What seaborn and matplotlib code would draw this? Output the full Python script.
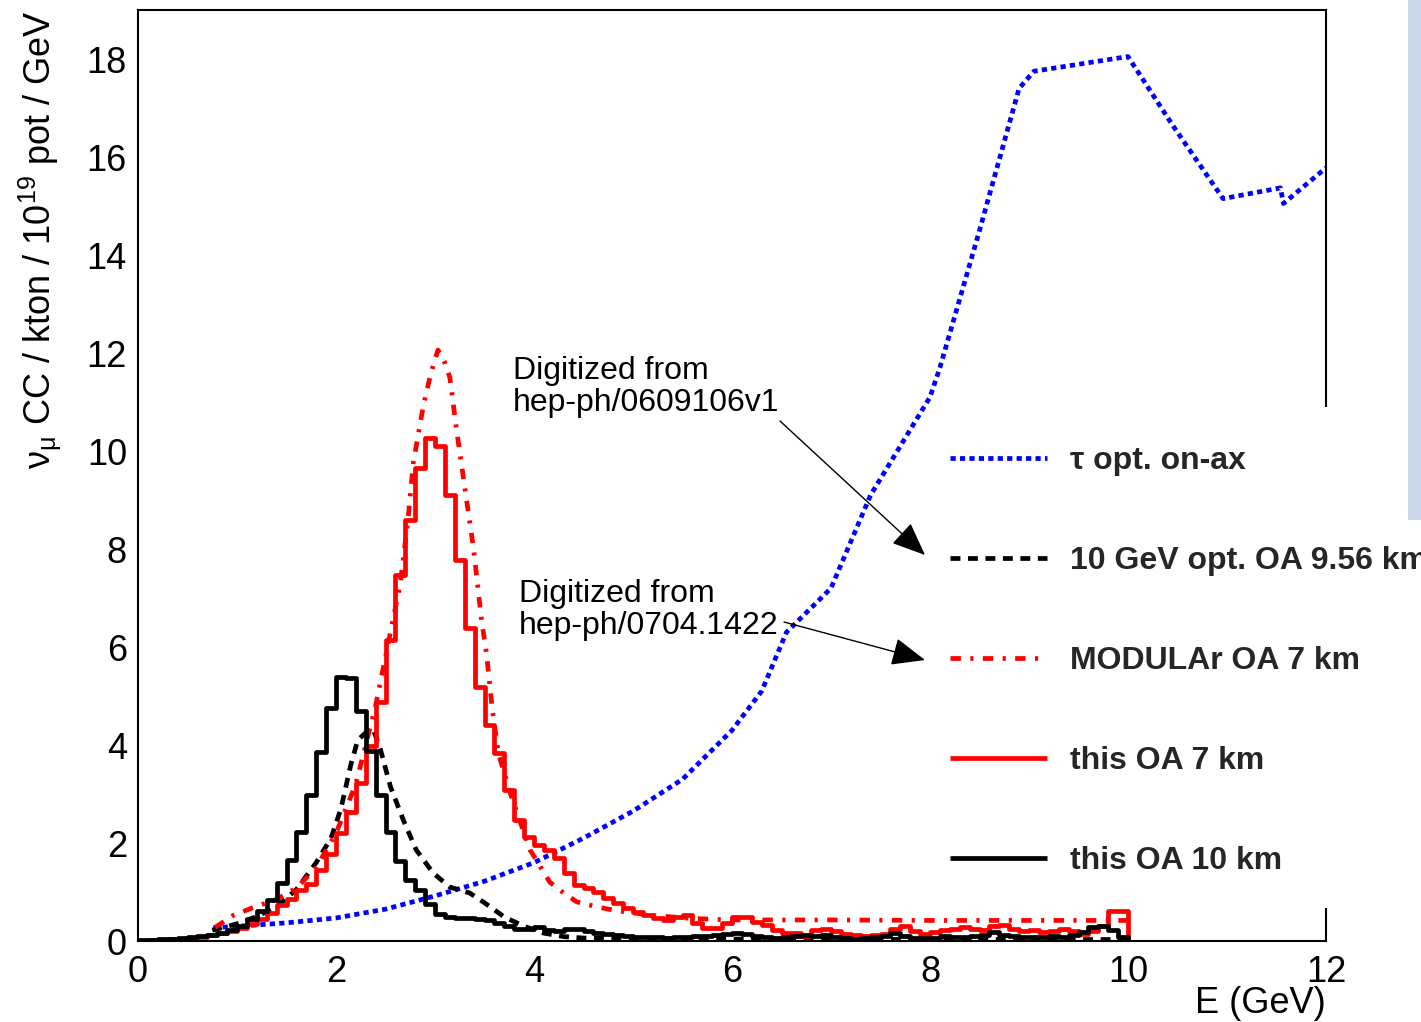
import numpy as np
import pandas as pd
import matplotlib
matplotlib.use("Agg")
import matplotlib.pyplot as plt
from matplotlib.patches import Rectangle
import seaborn as sns

# ---------------- data ----------------
bin_width = 0.1
bin_lo = 0.0

red_hist = [
    0.01, 0.02, 0.03, 0.04, 0.05, 0.07, 0.09, 0.12, 0.16, 0.20,
    0.27, 0.35, 0.45, 0.58, 0.73, 0.86, 1.04, 1.17, 1.45, 1.78,
    2.20, 2.64, 3.22, 3.97, 4.87, 6.14, 7.47, 8.59, 9.65, 10.26,
    10.10, 9.10, 7.78, 6.38, 5.19, 4.41, 3.83, 3.08, 2.47, 2.13,
    1.96, 1.86, 1.69, 1.38, 1.14, 1.08, 1.00, 0.87, 0.77, 0.67,
    0.60, 0.53, 0.46, 0.43, 0.50, 0.53, 0.36, 0.26, 0.26, 0.36,
    0.50, 0.50, 0.39, 0.33, 0.23, 0.16, 0.16, 0.10, 0.23, 0.25,
    0.20, 0.15, 0.12, 0.10, 0.12, 0.15, 0.25, 0.30, 0.20, 0.15,
    0.18, 0.22, 0.25, 0.28, 0.25, 0.22, 0.30, 0.32, 0.25, 0.20,
    0.22, 0.18, 0.20, 0.25, 0.20, 0.15, 0.20, 0.30, 0.62, 0.62,
]

black_hist = [
    0.02, 0.03, 0.04, 0.05, 0.06, 0.08, 0.10, 0.13, 0.17, 0.22,
    0.30, 0.45, 0.62, 0.84, 1.18, 1.65, 2.22, 2.98, 3.85, 4.75,
    5.39, 5.36, 4.70, 3.88, 2.98, 2.22, 1.63, 1.24, 1.04, 0.75,
    0.55, 0.50, 0.47, 0.47, 0.45, 0.42, 0.36, 0.30, 0.25, 0.25,
    0.28, 0.22, 0.20, 0.24, 0.25, 0.20, 0.17, 0.14, 0.12, 0.10,
    0.09, 0.08, 0.08, 0.07, 0.08, 0.09, 0.10, 0.11, 0.13, 0.15,
    0.16, 0.14, 0.10, 0.08, 0.07, 0.08, 0.10, 0.12, 0.10, 0.12,
    0.08, 0.06, 0.05, 0.06, 0.08, 0.10, 0.16, 0.10, 0.07, 0.06,
    0.07, 0.10, 0.08, 0.09, 0.10, 0.12, 0.18, 0.12, 0.10, 0.08,
    0.09, 0.08, 0.10, 0.08, 0.12, 0.18, 0.28, 0.30, 0.22, 0.08,
]

tau_x = [0.76, 1.0, 1.5, 2.0, 2.5, 3.0, 3.5, 4.0, 4.5, 5.0, 5.5, 5.8, 6.0,
         6.3, 6.55, 7.0, 7.4, 8.0, 8.1, 8.5, 8.9, 9.05, 10.0, 10.45, 10.96,
         11.54, 11.57, 12.0]
tau_y = [0.27, 0.30, 0.37, 0.47, 0.65, 0.92, 1.22, 1.60, 2.10, 2.65, 3.30,
         3.90, 4.30, 5.10, 6.30, 7.20, 9.10, 11.10, 11.70, 14.50, 17.40,
         17.75, 18.05, 16.65, 15.15, 15.37, 15.05, 15.78]

opt10_x = [0.75, 1.0, 1.2, 1.4, 1.6, 1.8, 1.95, 2.05, 2.15, 2.22, 2.30, 2.38,
           2.45, 2.55, 2.68, 2.81, 2.98, 3.15, 3.35, 3.50, 3.70, 3.90, 4.10,
           4.30, 4.5, 5.0, 6.0, 8.0, 10.0]
opt10_y = [0.22, 0.35, 0.50, 0.70, 1.05, 1.60, 2.10, 2.70, 3.60, 4.10, 4.25,
           4.30, 3.90, 3.15, 2.47, 1.86, 1.39, 1.10, 0.98, 0.78, 0.49, 0.30,
           0.16, 0.09, 0.06, 0.05, 0.04, 0.03, 0.03]

modular_x = [0.78, 0.96, 1.16, 1.4, 1.6, 1.8, 2.0, 2.2, 2.4, 2.55, 2.65, 2.73,
             2.78, 2.88, 2.96, 3.03, 3.10, 3.15, 3.22, 3.30, 3.39, 3.47, 3.52,
             3.58, 3.64, 3.76, 3.96, 4.16, 4.30, 4.43, 4.63, 4.80, 5.2, 5.6,
             6.0, 7.0, 8.0, 9.0, 10.0]
modular_y = [0.28, 0.52, 0.68, 0.85, 1.08, 1.50, 2.20, 3.20, 4.80, 6.30, 7.30,
             8.65, 9.75, 10.90, 11.60, 12.06, 11.80, 11.50, 10.40, 9.27, 8.00,
             6.55, 5.87, 4.71, 3.83, 3.02, 1.86, 1.20, 0.98, 0.80, 0.70, 0.63,
             0.52, 0.46, 0.43, 0.43, 0.42, 0.42, 0.42]

labels = ["\u03c4 opt. on-ax", "10 GeV opt. OA 9.56 km", "MODULAr OA 7 km",
          "this OA 7 km", "this OA 10 km"]
x_ticks = [0, 2, 4, 6, 8, 10, 12]
y_ticks = [0, 2, 4, 6, 8, 10, 12, 14, 16, 18]
note1 = "Digitized from\nhep-ph/0609106v1"
note2 = "Digitized from\nhep-ph/0704.1422"


def step_frame(vals):
    vals = list(vals)
    n = len(vals)
    edges = [bin_lo + i * bin_width for i in range(n + 1)]
    xs = edges[:n] + [edges[n], edges[n]]
    ys = vals + [vals[-1], 0.0]
    return pd.DataFrame({"E": xs, "N": ys})


# ---------------- style ----------------
sns.set_theme(style="white")
plt.rcParams["font.family"] = ["Liberation Sans", "DejaVu Sans"]
plt.rcParams["mathtext.fontset"] = "custom"
plt.rcParams["mathtext.rm"] = "Liberation Sans"
plt.rcParams["mathtext.it"] = "Liberation Sans:italic"
plt.rcParams["mathtext.bf"] = "Liberation Sans:bold"
plt.rcParams["mathtext.default"] = "regular"

W, H = 1421, 1022
fig = plt.figure(figsize=(W / 100, H / 100), dpi=100)
fig.patch.set_facecolor("white")
ax = fig.add_axes([138 / W, (H - 941) / H, (1326 - 138) / W, (941 - 10) / H])
ax.set_facecolor("white")

LW = 3.4

# tau optimised on-axis (blue dotted)
sns.lineplot(data=pd.DataFrame({"E": tau_x, "N": tau_y}), x="E", y="N",
             ax=ax, color="#0000ff", lw=LW, sort=False, estimator=None)
l_tau = ax.lines[-1]
l_tau.set_linestyle((0, (1.1, 0.9)))

# 10 GeV optimised OA (black dashed)
sns.lineplot(data=pd.DataFrame({"E": opt10_x, "N": opt10_y}), x="E", y="N",
             ax=ax, color="black", lw=LW, sort=False, estimator=None)
l_opt = ax.lines[-1]
l_opt.set_linestyle((0, (2.1, 1.6)))

# MODULAr (red dash-dot)
sns.lineplot(data=pd.DataFrame({"E": modular_x, "N": modular_y}), x="E", y="N",
             ax=ax, color="#ff0000", lw=LW, sort=False, estimator=None)
l_mod = ax.lines[-1]
l_mod.set_linestyle((0, (2.2, 2.0, 0.65, 2.0)))

# histograms
sns.lineplot(data=step_frame(red_hist), x="E", y="N", ax=ax, color="#ff0000",
             lw=LW, sort=False, estimator=None, drawstyle="steps-post")
l_red = ax.lines[-1]
sns.lineplot(data=step_frame(black_hist), x="E", y="N", ax=ax, color="black",
             lw=LW, sort=False, estimator=None, drawstyle="steps-post")
l_blk = ax.lines[-1]

for l in ax.lines:
    l.set_solid_capstyle("butt")
    l.set_dash_capstyle("butt")

# axes
ax.set_xlim(0, 12)
ax.set_ylim(0, 19)
ax.set_xticks(x_ticks)
ax.set_yticks(y_ticks)
ax.set_xticks(np.arange(0, 12.01, 0.5), minor=True)
ax.set_yticks(np.arange(0, 19.01, 0.5), minor=True)
ax.tick_params(axis="both", which="both", direction="in", top=False,
               right=False, width=1.5, color="black", labelsize=26,
               labelcolor="black")
ax.tick_params(axis="x", which="major", length=22, pad=10)
ax.tick_params(axis="x", which="minor", length=11.5)
ax.tick_params(axis="y", which="major", length=29, pad=8)
ax.tick_params(axis="y", which="minor", length=14)
for s in ax.spines.values():
    s.set_color("black")
    s.set_linewidth(1.5)
    s.set_visible(True)
ax.set_xlabel("")
ax.set_ylabel("")

fig.text(1326 / W, 1 - 1003 / H, "E (GeV)", ha="right", va="center",
         fontsize=26, color="black")
fig.text(40 / W, 1 - 10 / H,
         r"$\nu_{\mu}$ CC / kton / 10$^{19}$ pot / GeV",
         rotation=90, ha="center", va="top", fontsize=26, color="black")

# annotations
def px2data(px, py):
    return ((px - 138) / 99.0, (941 - py) / 49.0)

ax.text(*px2data(513, 387), note1, ha="left", va="center", fontsize=23,
        color="black", linespacing=1.05)
ax.text(*px2data(519, 610), note2, ha="left", va="center", fontsize=23,
        color="black", linespacing=1.05)
arrow = dict(arrowstyle="-|>,head_length=0.6,head_width=0.25",
             color="black", lw=1.0, mutation_scale=35, shrinkA=0, shrinkB=0)
ax.annotate("", xy=px2data(925, 555), xytext=px2data(780, 421),
            arrowprops=arrow)
ax.annotate("", xy=px2data(925, 660), xytext=px2data(784, 622),
            arrowprops=arrow)

# legend box (white, borderless) covering the frame
fig.add_artist(Rectangle((945 / W, 1 - 908 / H), (W - 945) / W, 501 / H,
                         transform=fig.transFigure, facecolor="white",
                         edgecolor="none", zorder=4))
fig.legend([l_tau, l_opt, l_mod, l_red, l_blk], labels,
           loc="upper left", bbox_to_anchor=(950 / W, 1 - 446 / H),
           bbox_transform=fig.transFigure, frameon=False, borderpad=0,
           borderaxespad=0, handlelength=3.05, handletextpad=0.7,
           labelspacing=2.19, prop={"weight": "bold", "size": 23})

# light blue strip at the right border (screenshot artefact)
fig.add_artist(Rectangle((1408 / W, 1 - 520 / H), 13 / W, 520 / H,
                         transform=fig.transFigure, facecolor="#cdd8ec",
                         edgecolor="none", zorder=6))

fig.savefig("out.png", dpi=100)
